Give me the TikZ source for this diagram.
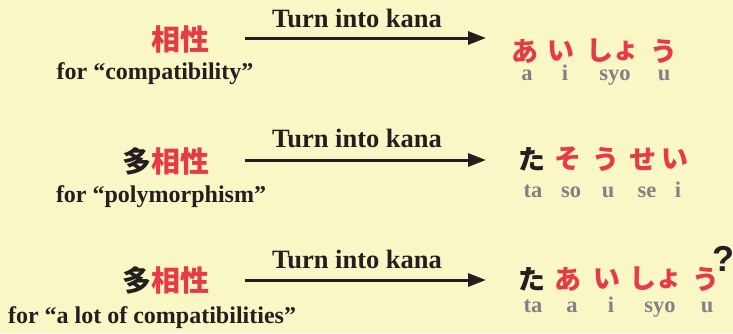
\documentclass[tikz,border=0pt]{standalone}
\usepackage{fontspec}
\setmainfont{Liberation Serif}
\newfontfamily\cjkfont{Noto Sans CJK JP}
\newfontfamily\qfont{Liberation Sans}
\usetikzlibrary{arrows.meta}
\definecolor{bg}{HTML}{FAF7C6}
\definecolor{kred}{HTML}{E73A44}
\definecolor{kblack}{HTML}{231F20}
\definecolor{kgray}{HTML}{808285}
\tikzset{
  kanji/.style={inner sep=0pt, anchor=center, font=\cjkfont\bfseries\fontsize{29}{29}\selectfont, text=kred},
  gloss/.style={inner sep=0pt, anchor=base, font=\bfseries\fontsize{24}{24}\selectfont, text=kblack},
  label/.style={inner sep=0pt, anchor=base, font=\bfseries\fontsize{26.5}{26.5}\selectfont, text=kblack},
  kana/.style={inner sep=0pt, anchor=center, font=\cjkfont\bfseries\fontsize{27}{27}\selectfont, text=kred},
  blackkana/.style={kana, text=kblack},
  romaji/.style={inner sep=0pt, anchor=base, font=\bfseries\fontsize{22.5}{22.5}\selectfont, text=kgray},
  conv/.style={line width=3pt, draw=kblack, -{Triangle[length=18pt,width=13pt]}},
}
\begin{document}
\begin{tikzpicture}[x=1pt,y=-1pt]
\fill[bg] (0,0) rectangle (733,333);
\useasboundingbox (0,0) rectangle (733,333);
% Row 1
\node[kanji] (w1) at (180,39) {相性};
\node[gloss] (g1) at (155,79) {for “compatibility”};
\coordinate (s1) at (245,38);
\coordinate (e1) at (486,38);
\draw[conv] (s1) -- (e1);
\node[label] (t1) at (357,27) {Turn into kana};
\node[kana] (k1a) at (525,51) {あ};
\node[kana] (k1b) at (561,51) {い};
\node[kana] (k1c) at (600,51) {し};
\node[kana] (k1d) at (626,51) {ょ};
\node[kana] (k1e) at (664,51) {う};
\node[romaji] (r1a) at (527,80) {a};
\node[romaji] (r1b) at (565,80) {i};
\node[romaji] (r1c) at (615,80) {syo};
\node[romaji] (r1d) at (664,80) {u};
% Row 2
\node[kanji] (w2) at (166,161) {\textcolor{kblack}{多}相性};
\node[gloss] (g2) at (161,202) {for “polymorphism”};
\coordinate (s2) at (245,160);
\coordinate (e2) at (486,160);
\draw[conv] (s2) -- (e2);
\node[label] (t2) at (357,147) {Turn into kana};
\node[blackkana] (k2a) at (532,159) {た};
\node[kana] (k2b) at (568,159) {そ};
\node[kana] (k2c) at (606,159) {う};
\node[kana] (k2d) at (643,159) {せ};
\node[kana] (k2e) at (675,159) {い};
\node[romaji] (r2a) at (533,197) {ta};
\node[romaji] (r2b) at (571,197) {so};
\node[romaji] (r2c) at (608,197) {u};
\node[romaji] (r2d) at (647,197) {se};
\node[romaji] (r2e) at (678,197) {i};
% Row 3
\node[kanji] (w3) at (166,280) {\textcolor{kblack}{多}相性};
\node[gloss] (g3) at (152,323) {for “a lot of compatibilities”};
\coordinate (s3) at (245,280);
\coordinate (e3) at (486,280);
\draw[conv] (s3) -- (e3);
\node[label] (t3) at (357,268) {Turn into kana};
\node[blackkana] (k3a) at (532,279) {た};
\node[kana] (k3b) at (568,279) {あ};
\node[kana] (k3c) at (607,279) {い};
\node[kana] (k3d) at (643,279) {し};
\node[kana] (k3e) at (669,279) {ょ};
\node[kana] (k3f) at (706,279) {う};
\node[inner sep=0pt, anchor=center, font=\qfont\bfseries\fontsize{36}{36}\selectfont, text=kblack] (q3) at (723,259) {?};
\node[romaji] (r3a) at (533,312) {ta};
\node[romaji] (r3b) at (572,312) {a};
\node[romaji] (r3c) at (611,312) {i};
\node[romaji] (r3d) at (660,312) {syo};
\node[romaji] (r3e) at (707,312) {u};
\end{tikzpicture}
\end{document}
